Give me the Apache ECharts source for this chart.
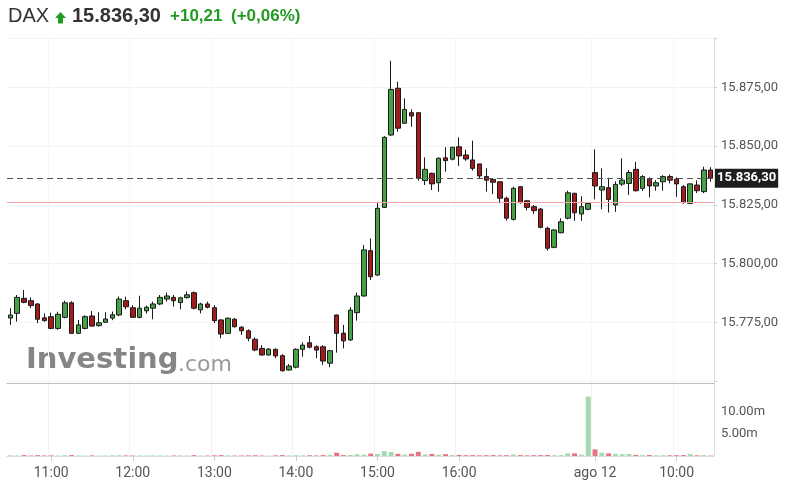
<!DOCTYPE html>
<html>
<head>
<meta charset="utf-8">
<script src="https://cdn.jsdelivr.net/npm/echarts@6/dist/echarts.min.js"></script>
<style>
html,body{margin:0;padding:0;background:#fff;}
#chart{width:790px;height:493px;}
</style>
</head>
<body>
<div id="chart"></div>
<script>
// ---- Data (5-minute candles) ----
const categories = [
 '10:30','10:35','10:40','10:45','10:50','10:55',
 '11:00','11:05','11:10','11:15','11:20','11:25','11:30','11:35','11:40','11:45','11:50','11:55',
 '12:00','12:05','12:10','12:15','12:20','12:25','12:30','12:35','12:40','12:45','12:50','12:55',
 '13:00','13:05','13:10','13:15','13:20','13:25','13:30','13:35','13:40','13:45','13:50','13:55',
 '14:00','14:05','14:10','14:15','14:20','14:25','14:30','14:35','14:40','14:45','14:50','14:55',
 '15:00','15:05','15:10','15:15','15:20','15:25','15:30','15:35','15:40','15:45','15:50','15:55',
 '16:00','16:05','16:10','16:15','16:20','16:25','16:30','16:35','16:40','16:45','16:50','16:55',
 '17:00','17:05','17:10','17:15','17:20','17:25','17:30','17:35',
 '09:00','09:05','09:10','09:15','09:20','09:25','09:30','09:35','09:40','09:45','09:50','09:55',
 '10:00','10:05','10:10','10:15','10:20','10:25'
];
const openValues = [
 15776.8,15778.8,15785.2,15784.2,15782.8,15776.9,15777.4,15772.4,15777.1,15783.3,
 15770.3,15772.4,15777.7,15773.6,15775.0,15776.8,15778.1,15784.2,15781.2,15777.1,
 15779.9,15781.0,15782.8,15784.9,15785.6,15783.4,15785.5,15787.6,15780.3,15782.8,
 15781.2,15776.0,15770.3,15776.3,15772.9,15771.4,15767.8,15763.9,15761.1,15763.5,
 15760.8,15754.7,15755.9,15763.5,15766.3,15764.6,15764.6,15757.6,15778.1,15770.4,
 15767.5,15779.1,15786.2,15805.5,15795.1,15823.9,15854.7,15874.6,15859.7,15864.2,
 15864.2,15835.3,15838.4,15834.4,15845.0,15844.4,15849.7,15846.2,15844.1,15842.4,
 15837.0,15835.8,15834.8,15827.8,15818.8,15832.7,15826.7,15824.2,15823.2,15815.0,
 15806.9,15813.1,15819.3,15829.9,15821.1,15823.1,15838.7,15831.3,15832.3,15824.9,
 15833.8,15834.1,15840.1,15832.0,15835.9,15833.0,15834.8,15837.0,15835.9,15832.7,
 15825.6,15833.4,15830.6,15839.8
];
const closeValues = [
 15778.1,15785.6,15783.5,15782.1,15776.3,15775.7,15772.4,15778.4,15783.3,15770.3,
 15773.9,15777.4,15773.4,15774.8,15776.4,15778.2,15784.9,15781.6,15777.1,15781.0,
 15781.4,15782.8,15785.6,15786.2,15784.2,15785.4,15786.7,15781.0,15782.8,15781.4,
 15775.7,15770.0,15776.7,15773.1,15771.4,15768.2,15763.2,15761.1,15763.6,15760.7,
 15754.4,15756.4,15763.5,15765.3,15764.4,15763.2,15758.5,15762.9,15770.3,15767.1,
 15780.2,15786.2,15805.8,15794.4,15823.5,15853.7,15874.1,15857.6,15865.6,15862.8,
 15836.3,15840.1,15833.9,15844.8,15843.8,15849.5,15845.8,15844.5,15840.5,15837.3,
 15835.5,15834.6,15827.8,15819.3,15832.0,15825.9,15823.9,15822.5,15815.4,15806.5,
 15814.3,15817.8,15830.1,15821.6,15824.2,15825.6,15833.0,15832.7,15827.3,15833.7,
 15835.5,15838.7,15831.0,15837.0,15833.0,15834.4,15837.0,15835.5,15833.9,15825.9,
 15833.9,15831.0,15839.8,15836.3
];
const lowValues = [
 15773.9,15775.3,15783.1,15781.0,15774.6,15775.3,15772.0,15771.8,15776.7,15770.3,
 15770.0,15772.0,15773.1,15773.1,15775.0,15775.9,15777.6,15780.5,15777.1,15776.7,
 15778.7,15776.3,15782.3,15783.8,15781.7,15780.5,15785.1,15780.5,15778.8,15780.9,
 15774.7,15768.2,15770.0,15772.8,15769.6,15766.9,15762.7,15760.8,15760.8,15759.7,
 15754.0,15754.4,15755.4,15760.4,15763.9,15759.7,15756.8,15755.9,15762.1,15763.9,
 15767.1,15775.7,15785.9,15793.0,15794.7,15823.6,15854.3,15856.1,15859.4,15858.2,
 15835.3,15833.4,15831.3,15830.6,15839.1,15843.9,15841.5,15843.7,15839.5,15836.0,
 15830.6,15829.6,15825.6,15818.3,15818.3,15825.5,15822.6,15821.1,15815.0,15805.5,
 15806.5,15812.9,15818.8,15818.2,15818.2,15822.6,15827.3,15823.1,15821.7,15822.0,
 15833.0,15829.2,15830.6,15830.9,15828.2,15831.0,15831.0,15834.1,15828.4,15825.5,
 15825.5,15830.0,15830.0,15834.8
];
const highValues = [
 15781.0,15786.6,15788.7,15785.6,15783.1,15778.8,15779.1,15779.5,15784.2,15784.0,
 15776.0,15778.0,15779.8,15779.3,15779.3,15779.6,15786.0,15785.9,15782.3,15786.3,
 15782.1,15783.8,15786.6,15787.6,15786.6,15785.9,15788.1,15788.1,15783.3,15783.8,
 15782.3,15776.3,15777.1,15776.8,15773.4,15772.0,15768.6,15765.3,15764.0,15763.9,
 15761.5,15757.2,15763.9,15766.5,15769.2,15765.2,15765.3,15763.2,15778.3,15773.9,
 15781.5,15787.6,15807.9,15810.7,15825.9,15854.2,15886.3,15877.4,15870.3,15865.6,
 15864.3,15845.2,15838.7,15845.2,15849.5,15849.6,15853.7,15848.4,15852.3,15842.4,
 15840.5,15836.3,15835.1,15828.5,15832.7,15832.9,15827.1,15824.9,15823.6,15815.7,
 15814.6,15819.3,15831.0,15830.1,15828.7,15826.0,15848.6,15840.5,15836.5,15835.0,
 15844.8,15839.8,15843.3,15837.6,15836.7,15835.5,15837.6,15837.9,15836.7,15833.4,
 15834.2,15835.4,15841.2,15841.0
];
// volume in millions
const volumeMillions = [
 0.15,0.12,0.20,0.10,0.18,0.12,0.14,0.10,0.16,0.20,0.12,0.10,0.14,0.10,0.12,0.15,
 0.18,0.13,0.10,0.12,0.10,0.14,0.12,0.10,0.12,0.14,0.10,0.18,0.12,0.10,0.15,0.20,
 0.14,0.10,0.12,0.14,0.16,0.12,0.10,0.15,0.20,0.12,0.18,0.14,0.16,0.12,0.20,0.25,
 0.75,0.20,0.25,0.40,0.30,0.55,0.45,1.10,0.90,0.50,0.30,0.50,0.95,0.35,0.45,0.30,
 0.40,0.20,0.25,0.18,0.20,0.15,0.18,0.20,0.15,0.18,0.35,0.20,0.15,0.18,0.20,0.22,
 0.18,0.20,0.60,0.60,0.30,13.5,1.50,0.75,0.60,0.50,0.40,0.45,0.25,0.20,0.22,0.18,
 0.20,0.15,0.18,0.20,0.45,0.15,0.20,0.10
];
const tickLabels = {'11:00':'11:00','12:00':'12:00','13:00':'13:00','14:00':'14:00',
  '15:00':'15:00','16:00':'16:00','09:00':'ago 12','10:00':'10:00'};
const priceTicks = [15775, 15800, 15825, 15850, 15875];
const volumeTicks = [5e6, 10e6];
const lastPrice = 15836.30;
const prevClose = 15826.09;
const headerName = 'DAX';
const headerPrice = '15.836,30';
const headerChange = '+10,21';
const headerPct = '(+0,06%)';

// ---- helpers ----
function fmtPrice(v){
  const s = v.toFixed(2).split('.');
  const int = s[0].replace(/\B(?=(\d{3})+(?!\d))/g, '.');
  return int + ',' + s[1];
}
const ohlc = openValues.map((o,i)=>[o, closeValues[i], lowValues[i], highValues[i]]);
const upColor = '#46a046', downColor = '#a11d1d';
const volData = volumeMillions.map((v,i)=>({
  value: v*1e6,
  itemStyle:{color: closeValues[i] >= openValues[i] ? '#a3d9b1' : '#e57382'}
}));
const isTick = (idx, val) => Object.prototype.hasOwnProperty.call(tickLabels, val);

const chart = echarts.init(document.getElementById('chart'), null, {renderer:'canvas'});
const axisFont = 'Roboto, "Liberation Sans", Arial, sans-serif';
const titleFont = '"Liberation Sans", Arial, sans-serif';
const green = '#239b23';

chart.setOption({
  animation:false,
  backgroundColor:'#fff',
  graphic:[
    {type:'text', left:8, top:6, style:{text:headerName, font:'20px '+titleFont, fill:'#333'}},
    {type:'polygon', x:55, y:12, shape:{points:[[0,6],[5.5,0],[11,6],[8,6],[8,11.5],[3,11.5],[3,6]]},
     style:{fill:green}},
    {type:'text', left:72, top:6, style:{text:headerPrice, font:'bold 20px '+titleFont, fill:'#333'}},
    {type:'text', left:170, top:8, style:{text:headerChange, font:'bold 17px '+titleFont, fill:green}},
    {type:'text', left:231, top:8, style:{text:headerPct, font:'bold 17px '+titleFont, fill:green}},
    {type:'text', left:26, top:346, z:-1, style:{text:'Investing', font:'bold 29px "DejaVu Sans"', fill:'#858585'}},
    {type:'text', left:178, top:354, z:-1, style:{text:'.com', font:'22px "DejaVu Sans"', fill:'#9a9a9a'}}
  ],
  grid:[
    {left:7, right:76, top:37.95, bottom:111.95},
    {left:7, right:76, top:383, bottom:37}
  ],
  xAxis:[
    {type:'category', gridIndex:0, data:categories, boundaryGap:true,
     axisLine:{show:false}, axisTick:{show:false}, axisLabel:{show:false},
     splitLine:{show:true, interval:isTick, lineStyle:{color:'#f7f7f7'}}},
    {type:'category', gridIndex:1, data:categories, boundaryGap:true,
     axisLine:{show:true, lineStyle:{color:'#dcdcdc'}},
     axisTick:{show:true, interval:isTick, alignWithLabel:true, length:5, lineStyle:{color:'#ccc'}},
     axisLabel:{show:true, interval:isTick, formatter:(v)=>tickLabels[v]||'', color:'#555',
       fontSize:14, fontFamily:axisFont, margin:10},
     splitLine:{show:true, interval:isTick, lineStyle:{color:'#f2f2f2'}}},
    {type:'category', gridIndex:1, data:categories, position:'top',
     axisLine:{show:true, lineStyle:{color:'#bdbdbd'}}, axisTick:{show:false}, axisLabel:{show:false},
     splitLine:{show:false}}
  ],
  yAxis:[
    {type:'value', gridIndex:0, position:'right', min:15750, max:15896, interval:25,
     axisLine:{show:true, lineStyle:{color:'#dcdcdc'}},
     axisTick:{show:true, length:3, lineStyle:{color:'#ccc'}},
     axisLabel:{color:'#555', fontSize:13, fontFamily:axisFont, margin:7,
       formatter:(v)=> priceTicks.includes(v) ? fmtPrice(v) : ''},
     splitLine:{show:true, lineStyle:{color:'#f2f2f2'}}},
    {type:'value', gridIndex:1, position:'right', min:0, max:16.6e6, interval:5e6,
     axisLine:{show:true, lineStyle:{color:'#dcdcdc'}},
     axisTick:{show:false},
     axisLabel:{color:'#555', fontSize:13, fontFamily:axisFont, margin:7,
       formatter:(v)=> volumeTicks.includes(v) ? (v/1e6).toFixed(2)+'m' : ''},
     splitLine:{show:false}}
  ],
  series:[
    {type:'candlestick', xAxisIndex:0, yAxisIndex:0, data:ohlc, barWidth:5,
     itemStyle:{color:upColor, color0:downColor, borderColor:'#1a1a1a', borderColor0:'#1a1a1a', borderWidth:1},
     markLine:{symbol:'none', silent:true, animation:false,
       data:[
         {yAxis:prevClose, lineStyle:{color:'#f6a5a5', type:'solid', width:1}, label:{show:false}},
         {yAxis:lastPrice, lineStyle:{color:'#555', type:[6,4], width:1},
          label:{show:true, position:'end', distance:1, formatter:fmtPrice(lastPrice),
            backgroundColor:'#1e1e1e', color:'#fff', fontSize:13, fontWeight:'bold',
            fontFamily:axisFont, padding:[3,2,3,2]}}
       ]}
    },
    {type:'bar', xAxisIndex:1, yAxisIndex:1, data:volData, barWidth:5}
  ]
});
</script>
</body>
</html>
